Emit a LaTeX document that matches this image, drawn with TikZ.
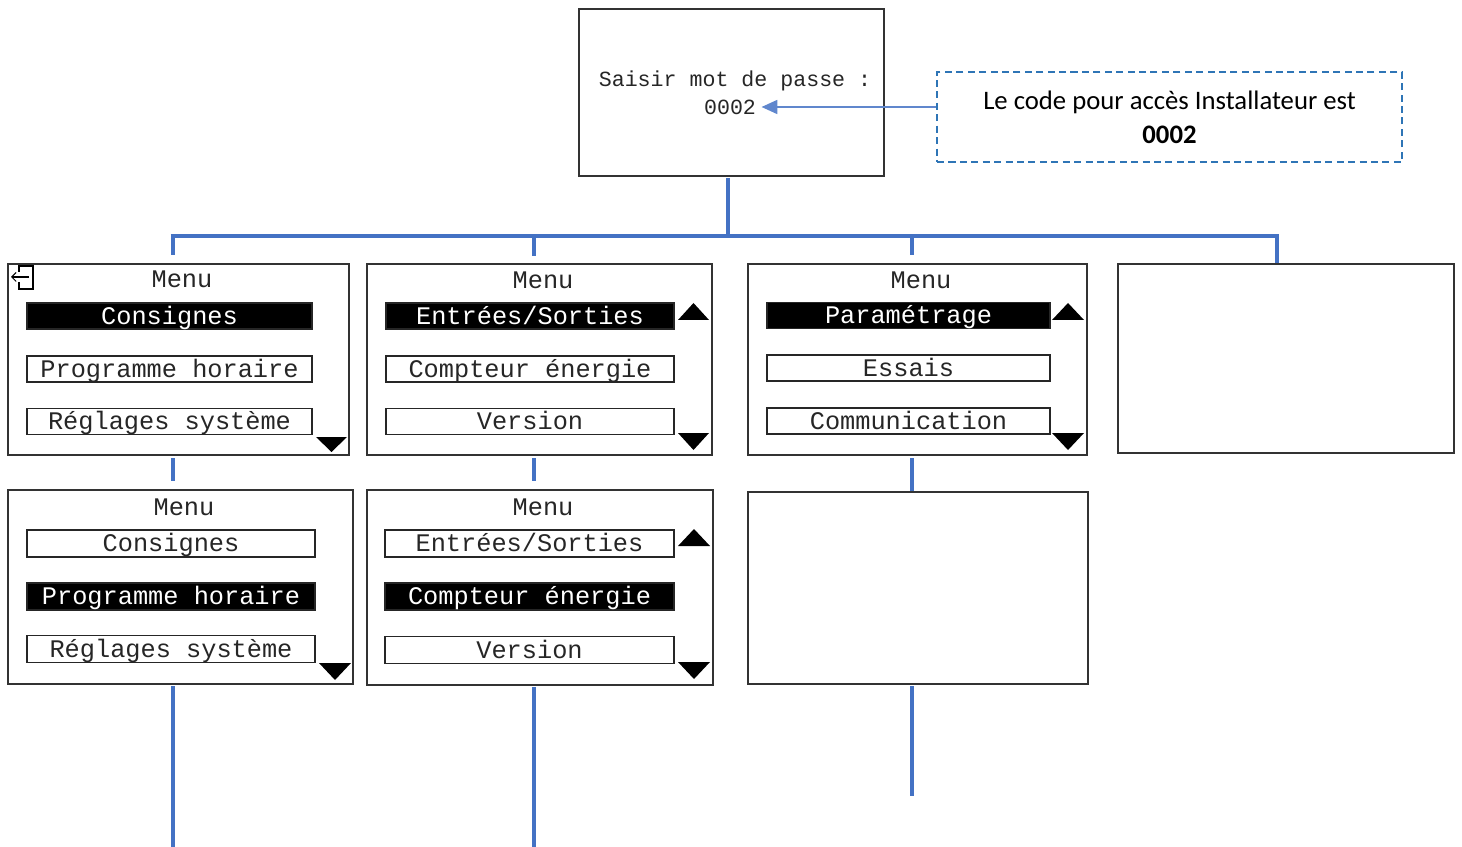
\documentclass[tikz,border=0pt]{standalone}
\usepackage{fontspec}
\usetikzlibrary{arrows.meta}
\newfontfamily\lcd{Liberation Mono}
\newfontfamily\calib{Carlito}
\definecolor{linkblue}{HTML}{4472C4}
\definecolor{noteblue}{HTML}{2E75B6}

\begin{document}
\begin{tikzpicture}[x=0.02cm, y=-0.02cm, >=Stealth,
    screen/.style={draw=black!80, line width=0.8pt, inner sep=0pt},
    item/.style={draw=black!85, line width=0.8pt, inner sep=0pt, minimum height=0.52cm,
                 text height=9.5pt, text depth=0pt,
                 font=\lcd\fontsize{14.4}{16}\selectfont, text=black!85},
    itemsel/.style={item, fill=black, text=white},
    title/.style={font=\lcd\fontsize{14.4}{16}\selectfont, text=black!85, inner sep=0pt},
    link/.style={draw=linkblue, line width=2.8pt}]
    \useasboundingbox (0,0) rectangle (1462,847);

    % ecran mot de passe
    \node[screen, minimum width=6.10cm, minimum height=3.34cm] (pwd) at (731.5,92.5) {};
    \node[title, font=\lcd\fontsize{12.3}{14}\selectfont] (ask) at (735,81) {Saisir mot de passe :};
    \node[title, font=\lcd\fontsize{12.3}{14}\selectfont] (code) at (730,107) {0002};

    % note pointillee
    \node[draw=noteblue, dash pattern=on 4pt off 2.5pt, line width=0.7pt, minimum width=9.30cm,
          minimum height=1.80cm, align=center, font=\calib\fontsize{15.2}{19.3}\selectfont]
          (note) at (1169.5,117) {Le code pour accès Installateur est\\ \textbf{0002}};
    \draw[-{Triangle[length=9pt,width=8pt]}, linkblue!85, line width=0.9pt]
          (code.east -| note.west) -- ([xshift=3pt]code.east);

    % ecrans ligne 1
    \node[screen, minimum width=6.82cm, minimum height=3.82cm] (s11) at (178.5,359.5) {};
    \node[screen, minimum width=6.90cm, minimum height=3.82cm] (s12) at (539.5,359.5) {};
    \node[screen, minimum width=6.78cm, minimum height=3.82cm] (s13) at (917.5,359.5) {};
    \node[screen, minimum width=6.72cm, minimum height=3.78cm] (s14) at (1286,358.5) {};

    % ecrans ligne 2
    \node[screen, minimum width=6.90cm, minimum height=3.88cm] (s21) at (180.5,587) {};
    \node[screen, minimum width=6.92cm, minimum height=3.90cm] (s22) at (540,587.5) {};
    \node[screen, minimum width=6.80cm, minimum height=3.84cm] (s23) at (918,588) {};

    % menu 1
    \node[title] (m11) at (182,279) {Menu};
    \node[itemsel, minimum width=5.70cm] (c11) at (169.5,316) {Consignes};
    \node[item, minimum width=5.70cm] (p11) at (169.5,369) {Programme horaire};
    \node[item, minimum width=5.70cm] (r11) at (169.5,421.5) {Réglages système};
    \fill (316,437) -- (347,437) -- (331.5,452) -- cycle;
    \draw[line width=0.6pt] (19,272) -- (19,266) -- (33,266) -- (33,289) -- (19,289) -- (19,282);
    \draw[-{Straight Barb[length=2.5pt]}, line width=0.6pt] (29,277) -- (11,277);

    % menu 2
    \node[title] (m12) at (543,280) {Menu};
    \node[itemsel, minimum width=5.76cm] (e12) at (530,316) {Entrées/Sorties};
    \node[item, minimum width=5.76cm] (k12) at (530,369) {Compteur énergie};
    \node[item, minimum width=5.76cm] (v12) at (530,421.5) {Version};
    \fill (678,320) -- (709,320) -- (693.5,303) -- cycle;
    \fill (678,433) -- (709,433) -- (693.5,450) -- cycle;

    % menu 3
    \node[title] (m13) at (921,280) {Menu};
    \node[itemsel, minimum width=5.66cm] (a13) at (908.5,315.5) {Paramétrage};
    \node[item, minimum width=5.66cm] (b13) at (908.5,368) {Essais};
    \node[item, minimum width=5.66cm] (d13) at (908.5,421) {Communication};
    \fill (1052,320) -- (1084,320) -- (1068,303) -- cycle;
    \fill (1052,433) -- (1084,433) -- (1068,450) -- cycle;

    % menu 1 bis
    \node[title] (m21) at (184,507) {Menu};
    \node[item, minimum width=5.76cm, minimum height=0.54cm] (c21) at (171,543.5) {Consignes};
    \node[itemsel, minimum width=5.76cm, minimum height=0.54cm] (p21) at (171,596.5) {Programme horaire};
    \node[item, minimum width=5.76cm, minimum height=0.54cm] (r21) at (171,649) {Réglages système};
    \fill (319,663) -- (351,663) -- (335,680) -- cycle;

    % menu 2 bis
    \node[title] (m22) at (543,507) {Menu};
    \node[item, minimum width=5.78cm, minimum height=0.54cm] (e22) at (529.5,543.5) {Entrées/Sorties};
    \node[itemsel, minimum width=5.78cm, minimum height=0.54cm] (k22) at (529.5,596.5) {Compteur énergie};
    \node[item, minimum width=5.78cm, minimum height=0.54cm] (v22) at (529.5,650) {Version};
    \fill (678,546) -- (710,546) -- (694,529) -- cycle;
    \fill (678,662) -- (710,662) -- (694,679) -- cycle;

    % liaisons
    \coordinate (busL) at (173,236);
    \coordinate (busR) at (1277,236);
    \coordinate (bus2) at (534,236);
    \coordinate (bus3) at (912,236);
    \coordinate (end1) at (173,847);
    \coordinate (end2) at (534,847);
    \coordinate (end3) at (912,796);
    \draw[link] (728,178) -- (728,236);
    \draw[link] ([xshift=-1.4pt]busL) -- ([xshift=1.4pt]busR);
    \draw[link] (busL) -- (173,255);
    \draw[link] (bus2) -- (534,256);
    \draw[link] (bus3) -- (912,255);
    \draw[link] (busR) -- (busR |- s14.north);
    \draw[link] (173,458) -- (173,481);
    \draw[link] (534,458) -- (534,481);
    \draw[link] (912,458) -- (912 ,491);
    \draw[link] (173,686) -- (end1);
    \draw[link] (534,687) -- (end2);
    \draw[link] (912,686) -- (end3);
\end{tikzpicture}
\end{document}
